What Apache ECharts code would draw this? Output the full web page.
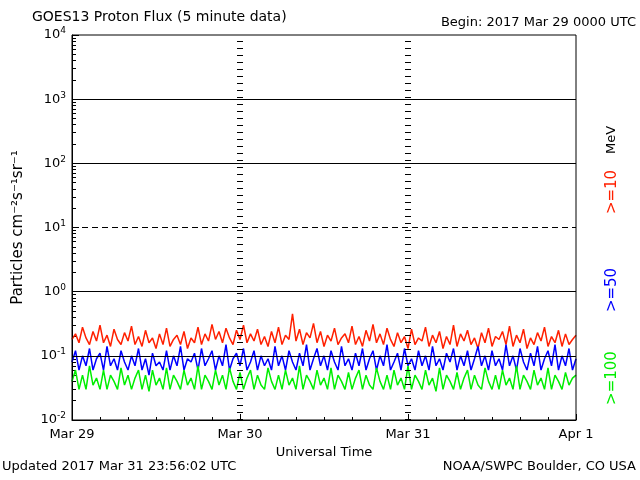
<!DOCTYPE html>
<html>
<head>
<meta charset="utf-8">
<script src="https://cdn.jsdelivr.net/npm/echarts@6/dist/echarts.min.js"></script>
<style>html,body{margin:0;background:#fff}#chart{width:640px;height:480px}</style>
</head>
<body>
<div id="chart"></div>
<script>
// hours since 2017 Mar 29 0000 UTC, one sample every half hour
var stepHours = 0.5;
var dayLabels = ['Mar 29', 'Mar 30', 'Mar 31', 'Apr 1'];

var p10 = [0.18,0.22,0.16,0.28,0.19,0.15,0.24,0.17,0.30,0.16,0.21,0.14,0.26,0.18,0.15,0.23,0.17,0.29,0.15,0.20,
0.14,0.25,0.16,0.19,0.13,0.22,0.15,0.27,0.14,0.18,0.21,0.15,0.24,0.13,0.19,0.16,0.28,0.15,0.22,0.17,
0.31,0.18,0.24,0.16,0.27,0.19,0.15,0.25,0.18,0.30,0.16,0.22,0.17,0.26,0.15,0.20,0.14,0.24,0.16,0.28,
0.15,0.21,0.18,0.45,0.17,0.26,0.15,0.23,0.19,0.32,0.16,0.24,0.14,0.21,0.17,0.27,0.15,0.19,0.22,0.16,
0.29,0.15,0.20,0.14,0.25,0.17,0.31,0.16,0.22,0.15,0.27,0.18,0.14,0.23,0.16,0.20,0.13,0.26,0.15,0.19,
0.17,0.28,0.14,0.21,0.16,0.24,0.13,0.20,0.15,0.30,0.14,0.22,0.17,0.25,0.15,0.19,0.13,0.23,0.16,0.27,
0.14,0.20,0.18,0.24,0.15,0.29,0.14,0.21,0.16,0.26,0.13,0.19,0.15,0.23,0.17,0.28,0.14,0.20,0.16,0.25,
0.14,0.22,0.15,0.18,0.21];
var p50 = [0.08,0.12,0.06,0.10,0.07,0.13,0.06,0.09,0.11,0.06,0.14,0.07,0.09,0.06,0.12,0.08,0.06,0.10,0.07,0.13,
0.06,0.09,0.05,0.11,0.07,0.08,0.06,0.12,0.06,0.10,0.07,0.14,0.06,0.09,0.08,0.11,0.06,0.13,0.07,0.09,
0.12,0.06,0.10,0.07,0.15,0.06,0.09,0.11,0.07,0.13,0.06,0.08,0.12,0.06,0.10,0.07,0.09,0.06,0.14,0.07,
0.10,0.06,0.12,0.08,0.06,0.11,0.07,0.15,0.06,0.09,0.13,0.07,0.10,0.06,0.12,0.08,0.06,0.14,0.07,0.09,
0.06,0.11,0.07,0.13,0.06,0.09,0.12,0.06,0.10,0.07,0.15,0.06,0.08,0.11,0.06,0.13,0.07,0.09,0.06,0.12,
0.07,0.10,0.06,0.14,0.07,0.09,0.06,0.11,0.08,0.13,0.06,0.10,0.07,0.12,0.06,0.09,0.14,0.07,0.10,0.06,
0.12,0.07,0.09,0.06,0.15,0.07,0.10,0.06,0.13,0.08,0.06,0.11,0.07,0.14,0.06,0.09,0.12,0.07,0.15,0.06,
0.10,0.07,0.13,0.06,0.09];
var p100 = [0.04,0.06,0.03,0.05,0.03,0.07,0.035,0.045,0.03,0.06,0.03,0.05,0.04,0.03,0.065,0.035,0.05,0.03,0.045,0.06,
0.03,0.05,0.028,0.06,0.035,0.045,0.03,0.065,0.03,0.05,0.04,0.03,0.06,0.035,0.045,0.03,0.07,0.03,0.05,0.04,
0.03,0.06,0.035,0.05,0.03,0.065,0.04,0.03,0.055,0.03,0.045,0.06,0.03,0.05,0.035,0.03,0.065,0.04,0.03,0.05,
0.03,0.06,0.035,0.045,0.03,0.07,0.03,0.05,0.04,0.03,0.06,0.035,0.045,0.03,0.065,0.03,0.05,0.04,0.03,0.055,
0.03,0.045,0.06,0.03,0.05,0.035,0.03,0.065,0.04,0.03,0.05,0.03,0.06,0.035,0.045,0.03,0.07,0.03,0.05,0.04,
0.03,0.06,0.035,0.045,0.028,0.065,0.03,0.05,0.04,0.03,0.055,0.03,0.045,0.06,0.03,0.05,0.035,0.03,0.065,0.04,
0.03,0.05,0.03,0.06,0.035,0.045,0.03,0.07,0.03,0.05,0.04,0.03,0.06,0.035,0.045,0.03,0.065,0.03,0.05,0.04,
0.03,0.055,0.035,0.045,0.05];

function pairs(arr) {
	var out = [];
	for (var i = 0; i < arr.length; i++) out.push([i * stepHours, arr[i]]);
	return out;
}

var font = 'DejaVu Sans';
var myChart = echarts.init(document.getElementById('chart'));
var option = {
	animation: false,
	backgroundColor: '#fff',
	textStyle: {fontFamily: font, color: '#000'},
	grid: {left: 72, right: 64, top: 35, bottom: 60},
	xAxis: {
		type: 'value', min: 0, max: 72, interval: 24,
		axisLine: {lineStyle: {color: '#000'}},
		axisTick: {inside: true, length: 6, lineStyle: {color: '#000'}},
		minorTick: {show: true, splitNumber: 6, length: 3, lineStyle: {color: '#000'}},
		splitLine: {show: false},
		axisLabel: {color: '#000', fontSize: 13, margin: 8, formatter: function(v) { return dayLabels[v / 24]; }},
		name: 'Universal Time', nameLocation: 'middle', nameGap: 26, nameTextStyle: {fontSize: 13, color: '#000'}
	},
	yAxis: {
		type: 'log', logBase: 10, min: 0.01, max: 10000,
		axisLine: {show: true, lineStyle: {color: '#000'}},
		axisTick: {inside: true, length: 7, lineStyle: {color: '#000'}},
		minorTick: {show: true, splitNumber: 9, length: 4, lineStyle: {color: '#000'}},
		splitLine: {show: false},
		axisLabel: {
			color: '#000', margin: 6,
			formatter: function(v) {
				var e = Math.round(Math.log10(v));
				return '{b|10}{s|' + e + '}';
			},
			rich: {b: {fontSize: 13, fontFamily: font}, s: {fontSize: 9, fontFamily: font, verticalAlign: 'top', padding: [0, 0, 8, 0]}}
		},
		name: 'Particles cm\u207B\u00B2s\u207B\u00B9sr\u207B\u00B9', nameLocation: 'middle', nameGap: 46,
		nameTextStyle: {fontSize: 15, color: '#000'}
	},
	series: [
		{type: 'line', data: pairs(p10), symbol: 'none', lineStyle: {color: '#ff2000', width: 1.5},
			markLine: {silent: true, symbol: 'none', label: {show: false}, animation: false,
				data: [
					{yAxis: 1000, lineStyle: {color: '#000', type: 'solid', width: 1}},
					{yAxis: 100, lineStyle: {color: '#000', type: 'solid', width: 1}},
					{yAxis: 10, lineStyle: {color: '#000', type: [6, 4], width: 1}},
					{yAxis: 1, lineStyle: {color: '#000', type: 'solid', width: 1}},
					{yAxis: 0.1, lineStyle: {color: '#000', type: 'solid', width: 1}},
					{xAxis: 24, lineStyle: {color: '#000', type: [1, 6], width: 6}},
					{xAxis: 48, lineStyle: {color: '#000', type: [1, 6], width: 6}}
				]}},
		{type: 'line', data: pairs(p50), symbol: 'none', lineStyle: {color: '#0000ff', width: 1.5}},
		{type: 'line', data: pairs(p100), symbol: 'none', lineStyle: {color: '#00ee00', width: 1.5}}
	],
	graphic: [
		{type: 'rect', shape: {x: 72, y: 35, width: 504, height: 385}, style: {fill: 'none', stroke: '#000', lineWidth: 1}, z: 100},
		{type: 'text', left: 32, top: 10, style: {text: 'GOES13 Proton Flux (5 minute data)', font: '14px DejaVu Sans', fill: '#000'}},
		{type: 'text', right: 4, top: 16, style: {text: 'Begin: 2017 Mar 29 0000 UTC', font: '13px DejaVu Sans', fill: '#000'}},
		{type: 'text', left: 2, top: 460, style: {text: 'Updated 2017 Mar 31 23:56:02 UTC', font: '13px DejaVu Sans', fill: '#000'}},
		{type: 'text', right: 4, top: 460, style: {text: 'NOAA/SWPC Boulder, CO USA', font: '13px DejaVu Sans', fill: '#000'}},
		{type: 'text', x: 612, y: 140, rotation: Math.PI / 2, style: {text: 'MeV', font: '13px DejaVu Sans', fill: '#000', align: 'center', verticalAlign: 'middle'}},
		{type: 'text', x: 612, y: 192, rotation: Math.PI / 2, style: {text: '>=10', font: '15px DejaVu Sans', fill: '#ff2000', align: 'center', verticalAlign: 'middle'}},
		{type: 'text', x: 612, y: 290, rotation: Math.PI / 2, style: {text: '>=50', font: '15px DejaVu Sans', fill: '#0000ff', align: 'center', verticalAlign: 'middle'}},
		{type: 'text', x: 612, y: 378, rotation: Math.PI / 2, style: {text: '>=100', font: '15px DejaVu Sans', fill: '#00ee00', align: 'center', verticalAlign: 'middle'}}
	]
};
myChart.setOption(option);
</script>
</body>
</html>
